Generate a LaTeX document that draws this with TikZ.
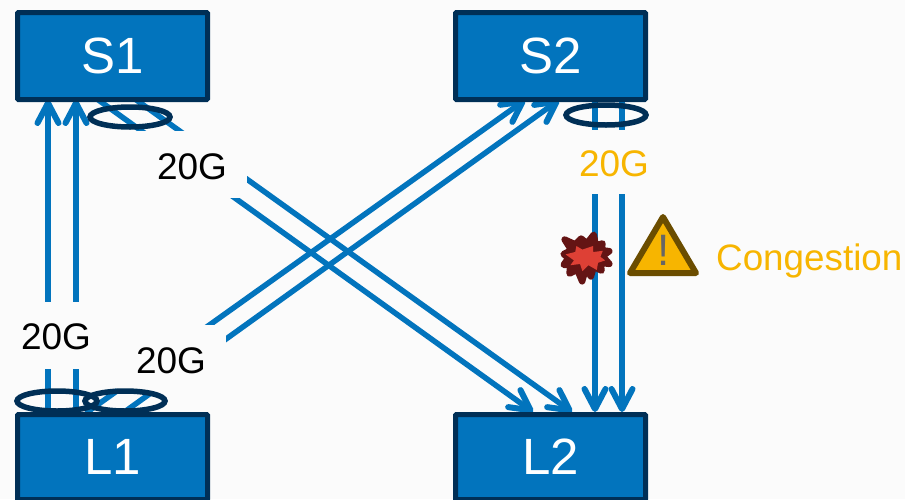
\documentclass[tikz,border=0pt]{standalone}
\usepackage{fontspec}
\setmainfont{Liberation Sans}
\usetikzlibrary{arrows.meta,shapes.geometric}
\definecolor{bgc}{HTML}{FBFBFB}
\definecolor{boxfill}{HTML}{0274BD}
\definecolor{boxline}{HTML}{002F56}
\definecolor{amber}{HTML}{F7B500}
\definecolor{amberdark}{HTML}{6B4D00}
\definecolor{burstdark}{HTML}{641414}
\definecolor{burstfill}{HTML}{DE4035}
\tikzset{
  x=1pt,y=-1pt,
  device/.style={draw=boxline,line width=5pt,fill=boxfill,rounded corners=1pt,text=white,font=\fontsize{51}{51}\selectfont,minimum width=190pt,inner sep=0pt,anchor=north west},
  link/.style={draw=boxfill,line width=5.5pt,-{Straight Barb[length=20pt,width=21pt,line width=6pt,line cap=round,round]}},
  cover/.style={fill=bgc,draw=none,inner sep=0pt,minimum width=110pt,minimum height=67pt,font=\fontsize{37}{37}\selectfont},
  lag/.style={draw=boxline,line width=5.5pt,fill=none,ellipse,inner sep=0pt,minimum width=80pt,minimum height=20pt},
}
\newcommand{\lowered}[2]{\raisebox{-#1pt}[0pt][0pt]{#2}}
\begin{document}
\begin{tikzpicture}
\useasboundingbox (0,0) rectangle (905,499);
\fill[bgc] (0,0) rectangle (905,499);
\coordinate (a1) at (48,412); \coordinate (a2) at (76,412);
\coordinate (b1) at (97,99); \coordinate (b2) at (135,99);
\coordinate (c1) at (533,412); \coordinate (c2) at (572,412);
\coordinate (d1) at (595,100); \coordinate (d2) at (622,100);
\coordinate (e1) at (595,412); \coordinate (e2) at (622,412);
\coordinate (f1) at (86,413); \coordinate (f2) at (123,413);
\coordinate (g1) at (525,100); \coordinate (g2) at (559,100);
\coordinate (h1) at (48,100); \coordinate (h2) at (76,100);
% links
\draw[link] (a1) -- (h1);
\draw[link] (a2) -- (h2);
\draw[link] (b1) -- (c1);
\draw[link] (b2) -- (c2);
\draw[link] (f1) -- (g1);
\draw[link] (f2) -- (g2);
\draw[link] (d1) -- (e1);
\draw[link] (d2) -- (e2);
% labels with covers
\node[cover] (t1) at (192,164) {\lowered{15}{20G}};
\node[cover] (t2) at (56,335) {\lowered{14}{20G}};
\node[cover] (t3) at (171,358) {\lowered{15}{20G}};
\node[cover,text=amber,minimum height=64pt] (t4) at (614,162) {\lowered{14}{20G}};
% devices
\node[device,minimum height=87pt] (s1) at (15,10) {S1};
\node[device,minimum height=87pt] (s2) at (453,10) {S2};
\node[device,minimum height=85pt] (l1) at (15,412) {L1};
\node[device,minimum height=85pt] (l2) at (453,412) {L2};
% LAG ellipses
\node[lag] (e-s1) at (130,117) {};
\node[lag] (e-s2) at (606,115) {};
\node[lag] (e-l1) at (57,401) {};
\node[lag] (e-l2) at (125,401) {};
% warning
\draw[draw=amberdark,fill=amber,line width=6pt,line join=round] (663,217) -- (630,273) -- (696,273) -- cycle;
\node[text=black!60,font=\fontsize{44}{44}\selectfont,inner sep=0pt] (excl) at (664,250) {!};
\node[text=amber,font=\fontsize{36.8}{37}\selectfont,anchor=west,inner sep=0pt] (cong) at (716,261) {Congestion};
% burst
\draw[draw=burstdark,fill=burstdark,line width=6.5pt,line join=round,scale around={0.97:(586,258)}]
 (564,239) -- (575,244) -- (581,238) -- (587,243) -- (594,234) -- (596,245) -- (603,243)
 -- (602,250) -- (610,251) -- (603,256) -- (610,264) -- (601,263) -- (602,271) -- (594,267)
 -- (591,277) -- (586,268) -- (582,282) -- (577,270) -- (569,274) -- (570,265) -- (563,265)
 -- (568,258) -- (563,254) -- (571,250) -- cycle;
\fill[burstfill,scale around={1.2:(586,258)}] (569,255) -- (577,253) -- (578,248) -- (583,251) -- (592,248) -- (592,253) -- (600,252)
 -- (598,257) -- (602,260) -- (596,262) -- (595,268) -- (588,264) -- (583,269) -- (581,263)
 -- (573,264) -- (576,260) -- cycle;
\end{tikzpicture}
\end{document}
